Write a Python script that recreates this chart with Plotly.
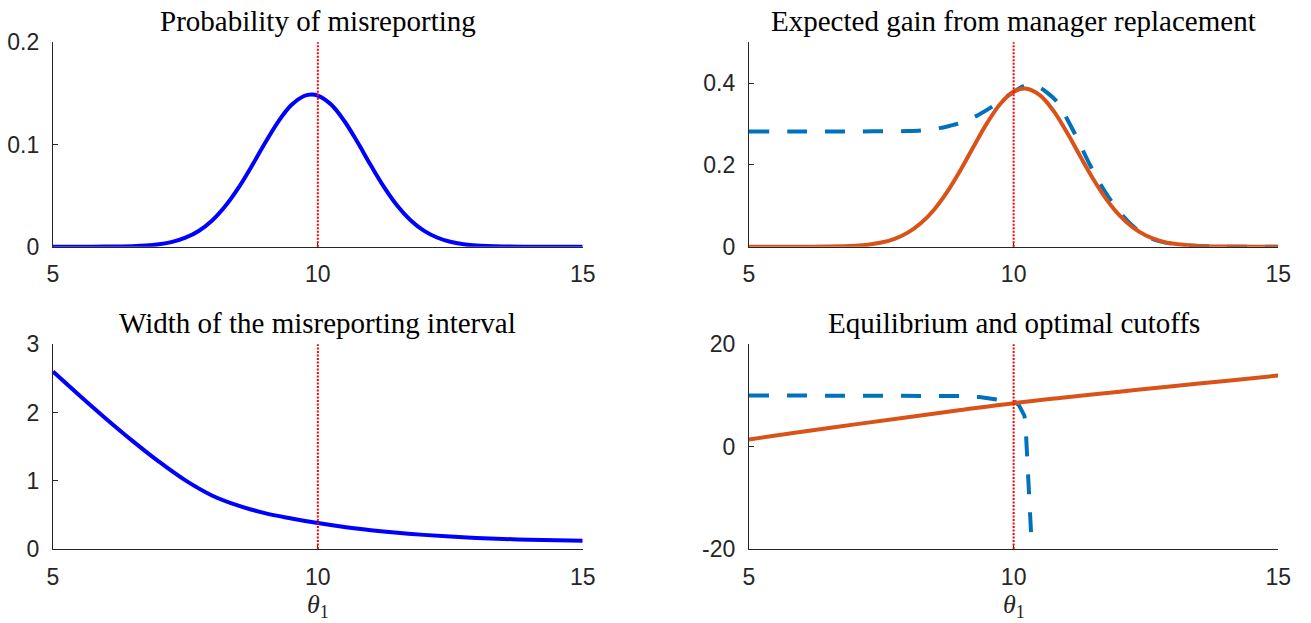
import plotly.graph_objects as go

# ---------------- data ----------------
THETA_STAR = 10

# Panel 1: probability of misreporting
p1_x = [5, 5.5, 6, 6.5, 6.75, 7, 7.25, 7.5, 7.75, 8, 8.25, 8.5, 8.75, 9, 9.25, 9.5, 9.75, 9.88, 10, 10.25, 10.5,
        10.75, 11, 11.25, 11.5, 11.75, 12, 12.25, 12.5, 12.75, 13, 13.5, 14, 15]
p1_y = [0.0, 0.0, 0.0001, 0.0005, 0.0011, 0.0024, 0.0047, 0.0088, 0.0154, 0.0254, 0.0395, 0.0575, 0.0787, 0.1012,
        0.1222, 0.1386, 0.1477, 0.149, 0.1479, 0.1391, 0.1230, 0.1021, 0.0796, 0.0583, 0.0401, 0.0259, 0.0157,
        0.0090, 0.0048, 0.0024, 0.0011, 0.0002, 0.0, 0.0]

# Panel 2: expected gain from manager replacement
p2_dash_x = [5, 6, 7, 8, 8.3, 8.6, 8.8, 9.0, 9.3, 9.6, 9.85, 10.05, 10.25, 10.45, 10.65, 10.85, 11.0, 11.2, 11.45,
             11.7, 12.0, 12.3, 12.6, 13.0, 13.5, 14, 15]
p2_dash_y = [0.282, 0.282, 0.282, 0.283, 0.285, 0.290, 0.296, 0.303, 0.320, 0.343, 0.365, 0.383, 0.395, 0.392,
             0.375, 0.350, 0.315, 0.265, 0.198, 0.140, 0.085, 0.045, 0.020, 0.007, 0.002, 0.0, 0.0]
p2_solid_x = [5, 6, 6.5, 7, 7.25, 7.5, 7.75, 8, 8.25, 8.5, 8.75, 9, 9.25, 9.5, 9.75, 10, 10.25, 10.5, 10.75, 11,
              11.25, 11.5, 11.75, 12, 12.25, 12.5, 12.75, 13, 13.5, 14, 15]
p2_solid_y = [0.0, 0.0001, 0.0004, 0.0023, 0.0050, 0.0101, 0.0192, 0.0344, 0.0578, 0.0912, 0.1353, 0.1884, 0.2465,
              0.3029, 0.3498, 0.3793, 0.3865, 0.3700, 0.3328, 0.2810, 0.2230, 0.1663, 0.1165, 0.0766, 0.0473,
              0.0275, 0.0150, 0.0077, 0.0017, 0.0003, 0.0]

# Panel 3: width of the misreporting interval
p3_x = [5, 5.5, 6, 6.5, 7, 7.5, 8, 8.5, 9, 9.5, 10, 10.5, 11, 11.5, 12, 12.5, 13, 13.5, 14, 14.5, 15]
p3_y = [2.60, 2.25, 1.91, 1.585, 1.28, 1.005, 0.785, 0.635, 0.525, 0.448, 0.38, 0.322, 0.276, 0.238, 0.207,
        0.182, 0.162, 0.147, 0.136, 0.128, 0.122]

# Panel 4: equilibrium and optimal cutoffs
p4_dash_x = [5, 6, 7, 8, 8.5, 9.0, 9.35, 9.7, 9.9, 10.03, 10.1, 10.16, 10.2, 10.22, 10.24, 10.27, 10.30, 10.33]
p4_dash_y = [10.0, 10.0, 10.0, 10.0, 9.98, 9.9, 9.7, 9.25, 8.95, 8.7, 8.1, 7.1, 6.1, 5.2, 1.3, -4.0, -9.7, -17.1]
p4_solid_x = [5, 6, 7, 8, 9, 10, 11, 12, 13, 14, 15]
p4_solid_y = [1.4, 2.9, 4.35, 5.75, 7.15, 8.5, 9.65, 10.75, 11.8, 12.85, 13.9]

titles = ["Probability of misreporting", "Expected gain from manager replacement",
          "Width of the misreporting interval", "Equilibrium and optimal cutoffs"]
x_ticks = [5, 10, 15]
y_ranges = [[0, 0.2], [0, 0.5], [0, 3], [-20, 20]]
y_tickvals = [[0, 0.1, 0.2], [0, 0.2, 0.4], [0, 1, 2, 3], [-20, 0, 20]]
y_ticktext = [["0", "0.1", "0.2"], ["0", "0.2", "0.4"], ["0", "1", "2", "3"], ["-20", "0", "20"]]
x_label = "<i>θ</i><sub>1</sub>"

# ---------------- layout ----------------
W, H = 1311, 623
AX = "#262626"
BLUE = "#0000FF"
MBLUE = "#0072BD"
ORANGE = "#D95319"

# pixel boxes (left, right, top, bottom)
boxes = [(53, 582.7, 42.3, 246.7), (749, 1278.3, 42.3, 246.7),
         (53, 582.7, 344.3, 549), (749, 1278.3, 344.3, 549)]

fig = go.Figure()

def add_line(i, x, y, color, dash="solid", width=4, shape="spline"):
    n = "" if i == 0 else str(i + 1)
    fig.add_trace(go.Scatter(x=x, y=y, mode="lines", xaxis="x" + n, yaxis="y" + n,
                             line=dict(color=color, width=width, dash=dash, shape=shape, smoothing=1.0),
                             cliponaxis=False, showlegend=False, hoverinfo="skip"))

add_line(0, p1_x, p1_y, BLUE)
add_line(1, p2_dash_x, p2_dash_y, MBLUE, dash="20px,18px")
add_line(1, p2_solid_x, p2_solid_y, ORANGE)
add_line(2, p3_x, p3_y, BLUE)
add_line(3, p4_dash_x, p4_dash_y, MBLUE, dash="20px,18px", shape="linear")
add_line(3, p4_solid_x, p4_solid_y, ORANGE)

tickfont = dict(family="Liberation Sans, Arial, sans-serif", size=23, color=AX)
layout = dict(template="none", width=W, height=H, margin=dict(l=0, r=0, t=0, b=0, pad=0, autoexpand=False),
              paper_bgcolor="white", plot_bgcolor="white", showlegend=False)
annotations = []
shapes = []
for i, (l, r, t, b) in enumerate(boxes):
    n = "" if i == 0 else str(i + 1)
    xd = [l / W, r / W]
    yd = [1 - b / H, 1 - t / H]
    layout["xaxis" + n] = dict(domain=xd, anchor="y" + n, range=[5, 15], tickvals=x_ticks,
                               ticktext=[str(v) for v in x_ticks], automargin=False,
                               showline=True, linecolor=AX, linewidth=1.2, mirror=False,
                               ticks="inside", ticklen=5, tickwidth=1, tickcolor=AX,
                               showgrid=False, zeroline=False, tickfont=tickfont,
                               ticklabelstandoff=7, fixedrange=True)
    layout["yaxis" + n] = dict(domain=yd, anchor="x" + n, range=y_ranges[i], tickvals=y_tickvals[i],
                               ticktext=y_ticktext[i], automargin=False,
                               showline=True, linecolor=AX, linewidth=1.2, mirror=False,
                               ticks="inside", ticklen=5, tickwidth=1, tickcolor=AX,
                               showgrid=False, zeroline=False, tickfont=tickfont,
                               ticklabelstandoff=8, fixedrange=True)
    shapes.append(dict(type="line", xref="x" + n, yref="y" + n + " domain", x0=THETA_STAR, x1=THETA_STAR,
                       y0=0, y1=1, layer="above",
                       line=dict(color="#FF0000", width=2, dash="2px,1.5px")))
    annotations.append(dict(text=titles[i], x=(xd[0] + xd[1]) / 2, y=yd[1], xref="paper", yref="paper",
                            xanchor="center", yanchor="bottom", yshift=3, showarrow=False,
                            font=dict(family="Liberation Serif, Times New Roman, serif", size=29, color="black")))
    if i >= 2:
        annotations.append(dict(text=x_label, x=(xd[0] + xd[1]) / 2, y=1 - 606 / H, xref="paper", yref="paper",
                                xanchor="center", yanchor="middle", showarrow=False,
                                font=dict(family="Liberation Serif, Times New Roman, serif", size=26, color=AX)))
layout["annotations"] = annotations
layout["shapes"] = shapes
fig.update_layout(**layout)

fig.write_html("out.html", post_script="document.body.style.margin='0';document.body.style.overflow='hidden';")
